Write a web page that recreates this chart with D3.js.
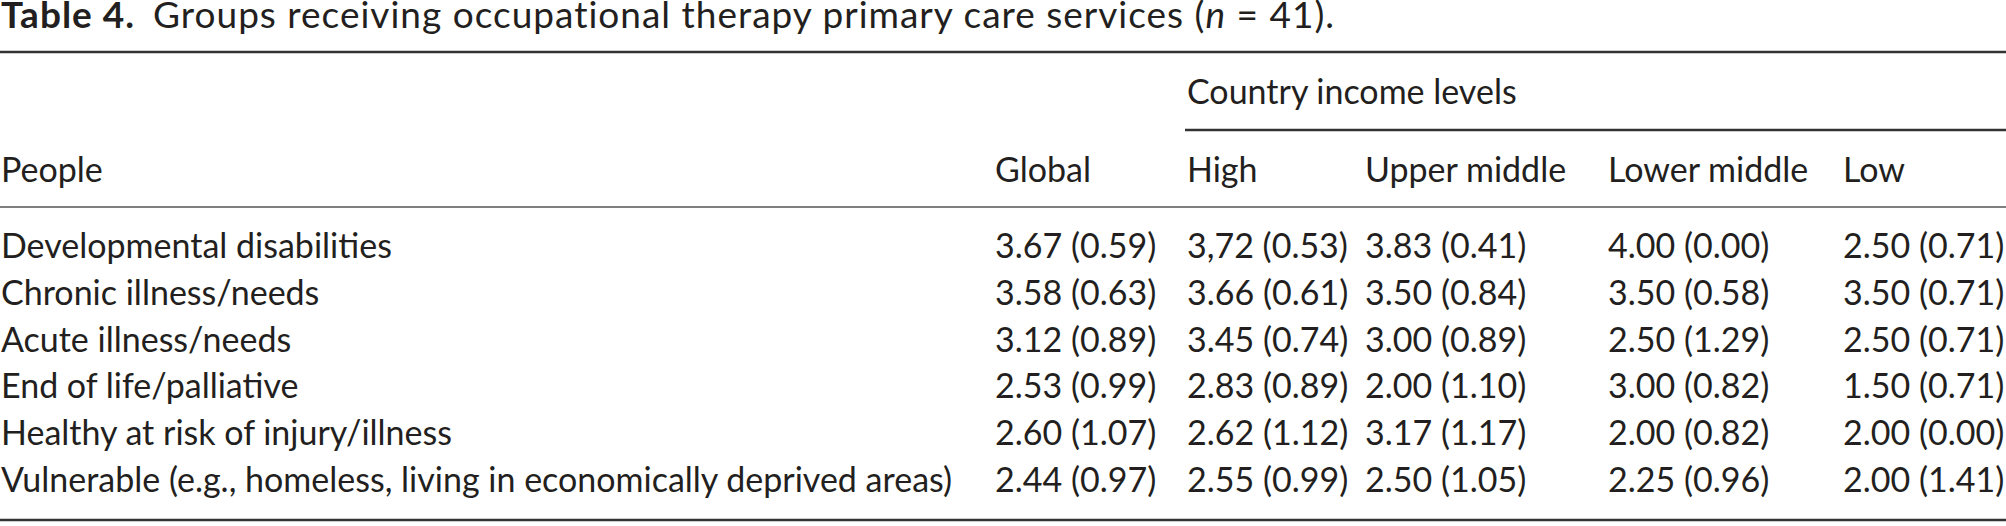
<!DOCTYPE html>
<meta charset="utf-8">
<style>
body { margin: 0; background: #fff; }
text {
  font-family: "Gill Sans", Lato, "Open Sans", sans-serif;
  font-size: 34px;
  fill: #231f20;
}
text.caption { font-size: 37px; letter-spacing: 1px; }
</style>
<body>
<script src="https://d3js.org/d3.v7.min.js"></script>
<script>
var width = 2006,
    height = 526;

// table content
var people = [
  "Developmental disabilities",
  "Chronic illness/needs",
  "Acute illness/needs",
  "End of life/palliative",
  "Healthy at risk of injury/illness",
  "Vulnerable (e.g., homeless, living in economically deprived areas)"
];
var columns = ["Global", "High", "Upper middle", "Lower middle", "Low"];
var global      = ["3.67 (0.59)", "3.58 (0.63)", "3.12 (0.89)", "2.53 (0.99)", "2.60 (1.07)", "2.44 (0.97)"];
var high        = ["3,72 (0.53)", "3.66 (0.61)", "3.45 (0.74)", "2.83 (0.89)", "2.62 (1.12)", "2.55 (0.99)"];
var upperMiddle = ["3.83 (0.41)", "3.50 (0.84)", "3.00 (0.89)", "2.00 (1.10)", "3.17 (1.17)", "2.50 (1.05)"];
var lowerMiddle = ["4.00 (0.00)", "3.50 (0.58)", "2.50 (1.29)", "3.00 (0.82)", "2.00 (0.82)", "2.25 (0.96)"];
var low         = ["2.50 (0.71)", "3.50 (0.71)", "2.50 (0.71)", "1.50 (0.71)", "2.00 (0.00)", "2.00 (1.41)"];
var cells = [global, high, upperMiddle, lowerMiddle, low];

var svg = d3.select("body").append("svg")
    .attr("width", width)
    .attr("height", height);

var x = d3.scaleOrdinal()
    .domain(columns)
    .range([995, 1187, 1365, 1608, 1843]);

var y = d3.scaleLinear()
    .domain([0, people.length - 1])
    .range([258, 492]);

// caption
var cap = svg.append("text")
    .attr("class", "caption")
    .attr("x", 1)
    .attr("y", 28);
cap.append("tspan")
    .style("font-weight", "bold")
    .text("Table 4.");
cap.append("tspan")
    .attr("dx", 18)
    .text("Groups receiving occupational therapy primary care services (");
cap.append("tspan")
    .style("font-style", "italic")
    .text("n");
cap.append("tspan")
    .text(" = 41).");

// rules
var rules = [
  {x1: 0, x2: width, y: 52, w: 2.5, c: "#333"},
  {x1: 1185, x2: width, y: 130, w: 2.5, c: "#333"},
  {x1: 0, x2: width, y: 207, w: 1.6, c: "#555"},
  {x1: 0, x2: width, y: 520, w: 2.5, c: "#333"}
];
svg.append("g").selectAll("line")
  .data(rules)
  .enter().append("line")
    .attr("x1", function(d) { return d.x1; })
    .attr("x2", function(d) { return d.x2; })
    .attr("y1", function(d) { return d.y; })
    .attr("y2", function(d) { return d.y; })
    .style("stroke", function(d) { return d.c; })
    .style("stroke-width", function(d) { return d.w; });

// headers
svg.append("text")
    .attr("x", x("High"))
    .attr("y", 104)
    .text("Country income levels");
svg.append("text")
    .attr("x", 1)
    .attr("y", 182)
    .text("People");
svg.append("g").selectAll("text")
  .data(columns)
  .enter().append("text")
    .attr("x", function(d) { return x(d); })
    .attr("y", 182)
    .text(function(d) { return d; });

// body
svg.append("g").selectAll("text")
  .data(people)
  .enter().append("text")
    .attr("x", 1)
    .attr("y", function(d, i) { return y(i); })
    .text(function(d) { return d; });

var col = svg.append("g").selectAll("g")
  .data(cells)
  .enter().append("g");
col.selectAll("text")
  .data(function(d, j) { return d.map(function(v) { return {v: v, c: columns[j]}; }); })
  .enter().append("text")
    .attr("x", function(d) { return x(d.c); })
    .attr("y", function(d, i) { return y(i); })
    .text(function(d) { return d.v; });
</script>
</body>
</html>
